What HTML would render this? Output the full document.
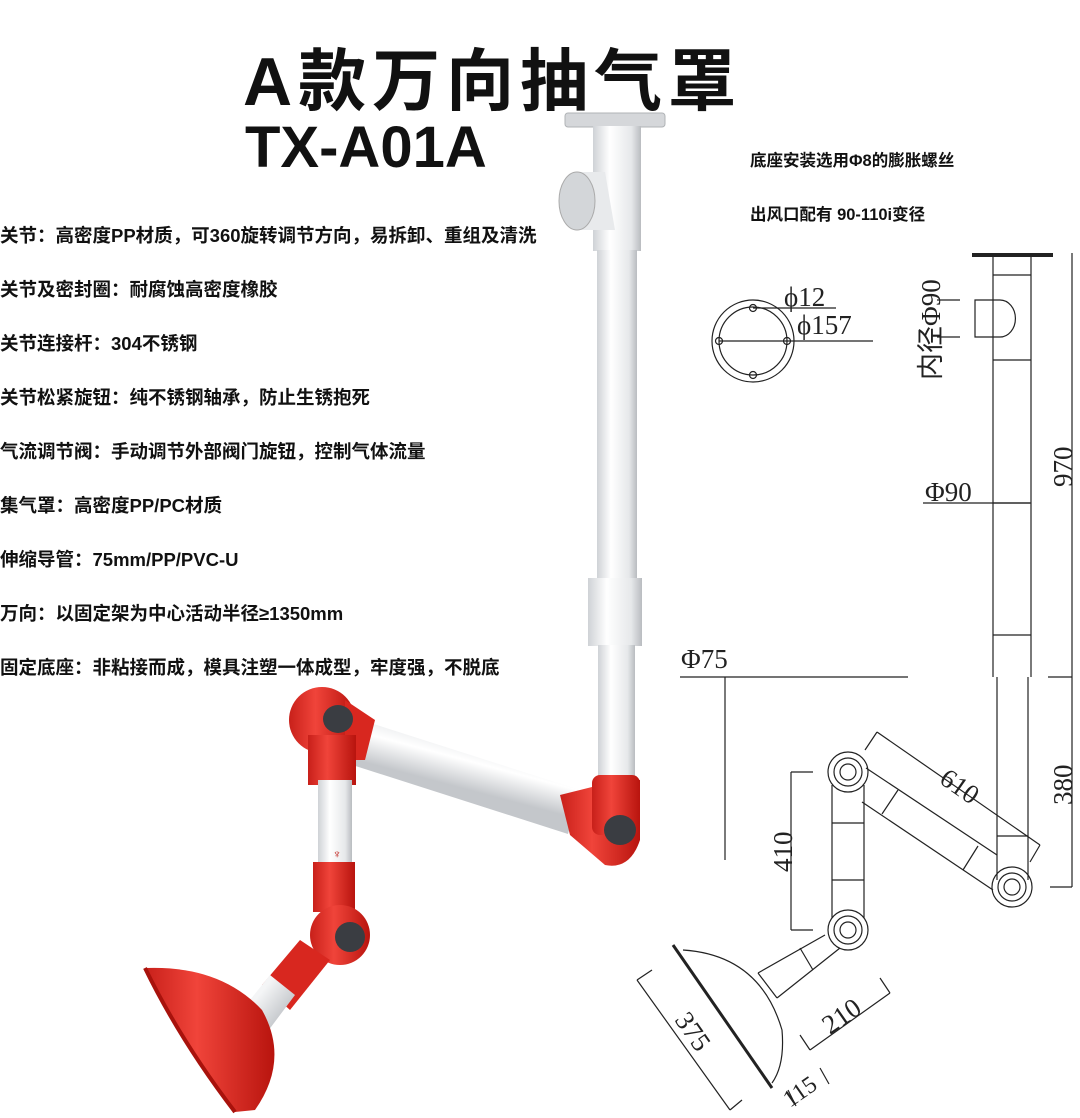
<!DOCTYPE html>
<html><head><meta charset="utf-8"><style>
html,body{margin:0;padding:0;background:#fff;}
body{width:1080px;height:1118px;position:relative;overflow:hidden;font-family:"Liberation Sans","Noto Sans CJK SC",sans-serif;}
.t{position:absolute;white-space:nowrap;color:#111;}
.f{position:absolute;left:0;font-size:18.5px;color:#111;white-space:nowrap;font-weight:600;}
</style></head><body>
<svg width="1080" height="1118" style="position:absolute;left:0;top:0">
<defs>
<linearGradient id="w" x1="0" x2="1"><stop offset="0" stop-color="#cfd2d6"/><stop offset="0.35" stop-color="#ffffff"/><stop offset="0.8" stop-color="#e6e8ea"/><stop offset="1" stop-color="#b9bcc0"/></linearGradient>
<linearGradient id="r" x1="0" x2="1"><stop offset="0" stop-color="#c8201a"/><stop offset="0.4" stop-color="#f0443a"/><stop offset="1" stop-color="#b8140e"/></linearGradient>
<linearGradient id="wd" gradientUnits="userSpaceOnUse" x1="462" y1="740" x2="450" y2="785"><stop offset="0" stop-color="#e8eaec"/><stop offset="0.4" stop-color="#ffffff"/><stop offset="1" stop-color="#c4c7cb"/></linearGradient>
<linearGradient id="wd2" gradientUnits="userSpaceOnUse" x1="255" y1="1000" x2="280" y2="1020"><stop offset="0" stop-color="#f4f5f6"/><stop offset="1" stop-color="#c4c7cb"/></linearGradient>
</defs>
<!-- product -->
<rect x="565" y="113" width="100" height="14" rx="3" fill="#d5d7da" stroke="#b0b3b6"/>
<rect x="593" y="126" width="48" height="125" fill="url(#w)"/>
<path d="M575 172 L605 172 L615 230 L575 230 Z" fill="#e8eaec"/>
<ellipse cx="577" cy="201" rx="18" ry="29" fill="#d3d6d9" stroke="#aaa"/>
<rect x="597" y="250" width="40" height="330" fill="url(#w)"/>
<rect x="588" y="578" width="54" height="68" fill="url(#w)"/>
<rect x="598" y="645" width="37" height="135" fill="url(#w)"/>
<!-- horizontal arm -->
<path d="M355 718 L580 790 L568 834 L343 762 Z" fill="url(#wd)"/>
<path d="M560 795 L600 785 L640 780 L640 840 Q630 870 605 865 L570 835 Z" fill="url(#r)"/>
<rect x="592" y="775" width="48" height="60" rx="8" fill="url(#r)"/>
<ellipse cx="620" cy="830" rx="16" ry="15" fill="#3a3d42"/>
<!-- top-left joint -->
<circle cx="322" cy="720" r="33" fill="url(#r)"/>
<path d="M345 700 L375 720 L365 760 L345 760 Z" fill="#d8271f"/>
<ellipse cx="338" cy="719" rx="15" ry="14" fill="#3a3d42"/>
<!-- vertical segment -->
<rect x="308" y="735" width="48" height="50" fill="url(#r)"/>
<rect x="318" y="780" width="34" height="85" fill="url(#w)"/>
<rect x="313" y="862" width="42" height="50" fill="url(#r)"/>
<text x="337" y="858" font-size="12" fill="#c0201a" text-anchor="middle">♆</text>
<circle cx="340" cy="935" r="30" fill="url(#r)"/>
<ellipse cx="350" cy="937" rx="15" ry="15" fill="#3a3d42"/>
<!-- lower arm to hood -->
<path d="M300 940 L330 960 L290 1010 L262 985 Z" fill="#d8271f"/>
<path d="M270 975 L295 995 L265 1035 L238 1015 Z" fill="url(#wd2)"/>
<path d="M145 968 Q220 965 262 1010 Q290 1060 255 1110 L235 1112 Q180 1040 145 968 Z" fill="url(#r)"/>
<path d="M145 968 Q180 1040 235 1112" stroke="#a8120c" stroke-width="4" fill="none"/>
</svg>
<div class="t" style="left:243px;top:26px;font-size:68px;font-weight:bold;letter-spacing:6px;">A款万向抽气罩</div>
<div class="t" style="left:245px;top:114px;font-size:58px;font-weight:bold;letter-spacing:0px;">TX-A01A</div>
<div class="f" style="top:222px">关节：高密度PP材质，可360旋转调节方向，易拆卸、重组及清洗</div>
<div class="f" style="top:276px">关节及密封圈：耐腐蚀高密度橡胶</div>
<div class="f" style="top:330px">关节连接杆：304不锈钢</div>
<div class="f" style="top:384px">关节松紧旋钮：纯不锈钢轴承，防止生锈抱死</div>
<div class="f" style="top:438px">气流调节阀：手动调节外部阀门旋钮，控制气体流量</div>
<div class="f" style="top:492px">集气罩：高密度PP/PC材质</div>
<div class="f" style="top:546px">伸缩导管：75mm/PP/PVC-U</div>
<div class="f" style="top:600px">万向：以固定架为中心活动半径≥1350mm</div>
<div class="f" style="top:654px">固定底座：非粘接而成，模具注塑一体成型，牢度强，不脱底</div>
<div class="t" style="left:750px;top:147px;font-size:16.5px;font-weight:600;">底座安装选用Φ8的膨胀螺丝</div>
<div class="t" style="left:750px;top:201px;font-size:16.5px;font-weight:600;">出风口配有 90-110i变径</div>
<svg width="1080" height="1118" style="position:absolute;left:0;top:0" fill="none" stroke="#222" stroke-width="1.2" font-family="Liberation Serif,serif">
<circle cx="753" cy="341" r="41"/><circle cx="753" cy="341" r="34"/>
<circle cx="753" cy="308" r="3.5"/><circle cx="753" cy="375" r="3.5"/><circle cx="719" cy="341" r="3.5"/><circle cx="787" cy="341" r="3.5"/>
<line x1="719" y1="341" x2="873" y2="341"/><line x1="753" y1="308" x2="836" y2="308"/>
<g fill="#222" stroke="none" font-size="27">
<text x="784" y="306">ϕ12</text><text x="797" y="334">ϕ157</text>
<text x="925" y="501">Φ90</text><text x="681" y="668">Φ75</text>
<text transform="translate(1072,487) rotate(-90)">970</text>
<text transform="translate(1072,805) rotate(-90)">380</text>
<text transform="translate(940,380) rotate(-90)">内径Φ90</text>
<text transform="translate(792,872) rotate(-90)">410</text>
<text transform="translate(938,782) rotate(35)">610</text>
<text transform="translate(830,1035) rotate(-35)">210</text>
<text transform="translate(674,1020) rotate(55)">375</text>
<text transform="translate(790,1108) rotate(-35)" font-size="24">115</text>
</g>
<line x1="972" y1="255" x2="1053" y2="255" stroke-width="4"/>
<line x1="993" y1="257" x2="993" y2="677"/><line x1="1031" y1="257" x2="1031" y2="677"/>
<line x1="993" y1="275" x2="1031" y2="275"/><line x1="993" y1="360" x2="1031" y2="360"/>
<line x1="993" y1="503" x2="1031" y2="503"/><line x1="993" y1="635" x2="1031" y2="635"/>
<path d="M975 300 H1000 A15 18 0 0 1 1000 337 H975 Z"/>
<line x1="937" y1="300" x2="960" y2="300"/><line x1="937" y1="337" x2="960" y2="337"/>
<line x1="1072" y1="253" x2="1072" y2="887"/><line x1="1048" y1="677" x2="1072" y2="677"/><line x1="1050" y1="887" x2="1072" y2="887"/>
<line x1="923" y1="503" x2="1030" y2="503"/>
<line x1="680" y1="677" x2="908" y2="677"/><line x1="725" y1="677" x2="725" y2="860"/>
<line x1="997" y1="677" x2="997" y2="880"/><line x1="1028" y1="677" x2="1028" y2="880"/>
<line x1="997" y1="836" x2="1028" y2="836"/>
<circle cx="1012" cy="887" r="20"/><circle cx="1012" cy="887" r="14"/><circle cx="1012" cy="887" r="8"/>
<circle cx="848" cy="772" r="20"/><circle cx="848" cy="772" r="14"/><circle cx="848" cy="772" r="8"/>
<circle cx="848" cy="930" r="20"/><circle cx="848" cy="930" r="14"/><circle cx="848" cy="930" r="8"/>
<line x1="832" y1="785" x2="832" y2="918"/><line x1="864" y1="785" x2="864" y2="918"/>
<line x1="832" y1="823" x2="864" y2="823"/><line x1="832" y1="880" x2="864" y2="880"/>
<line x1="866" y1="768" x2="997" y2="855"/><line x1="862" y1="802" x2="993" y2="890"/>
<line x1="898" y1="790" x2="882" y2="814"/><line x1="978" y1="846" x2="963" y2="870"/>
<line x1="877" y1="732" x2="1040" y2="845"/><line x1="877" y1="732" x2="865" y2="750"/><line x1="1040" y1="845" x2="1030" y2="862"/>
<line x1="791" y1="772" x2="791" y2="930"/><line x1="791" y1="772" x2="813" y2="772"/><line x1="791" y1="930" x2="813" y2="930"/>
<line x1="825" y1="935" x2="758" y2="973"/><line x1="840" y1="948" x2="777" y2="998"/>
<line x1="800" y1="948" x2="813" y2="970"/>
<path d="M673 945 L772 1088" stroke-width="3"/>
<path d="M683 950 Q760 955 782 1030 Q785 1065 772 1083"/>
<line x1="758" y1="973" x2="777" y2="998"/>
<line x1="637" y1="980" x2="730" y2="1110"/><line x1="637" y1="980" x2="652" y2="970"/><line x1="730" y1="1110" x2="742" y2="1100"/>
<line x1="810" y1="1050" x2="890" y2="993"/><line x1="810" y1="1050" x2="800" y2="1035"/><line x1="890" y1="993" x2="880" y2="978"/>
<line x1="788" y1="1090" x2="796" y2="1106"/><line x1="820" y1="1068" x2="829" y2="1084"/>
</svg>
</body></html>
